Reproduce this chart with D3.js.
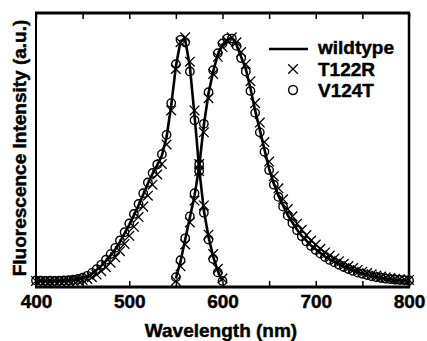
<!DOCTYPE html>
<html>
<head>
<meta charset="utf-8">
<script src="https://cdn.jsdelivr.net/npm/d3@7"></script>
<style>
  body { margin: 0; background: #fff; }
  svg { display: block; }
  text { font-family: "Liberation Sans", Arial, sans-serif; font-weight: bold; fill: #000; stroke: #000; stroke-width: 0.45px; }
</style>
</head>
<body>
<svg id="chart" width="427" height="341"></svg>
<script>
// excitation wavelengths (nm)
var exWl = [400, 405, 410, 415, 420, 425, 430, 435, 440, 445, 450, 455, 460, 465, 470, 475, 480,
    485, 490, 495, 500, 505, 510, 515, 520, 525, 530, 535, 540, 545, 550, 555, 560, 565, 570,
    575, 580, 585, 590, 595, 600];
// emission wavelengths (nm)
var emWl = [550, 555, 560, 565, 570, 575, 580, 585, 590, 595, 600, 605, 610, 615, 620, 625, 630,
    635, 640, 645, 650, 655, 660, 665, 670, 675, 680, 685, 690, 695, 700, 705, 710, 715, 720,
    725, 730, 735, 740, 745, 750, 755, 760, 765, 770, 775, 780, 785, 790, 795, 800];

var wildEx = [0, 0, 0, 0, 0, 0, 0, 0.001, 0.003, 0.006, 0.011, 0.018, 0.03, 0.045, 0.062, 0.082,
    0.105, 0.13, 0.16, 0.195, 0.23, 0.27, 0.31, 0.355, 0.4, 0.44, 0.475, 0.515, 0.59, 0.72, 0.88,
    0.985, 0.99, 0.88, 0.68, 0.46, 0.29, 0.18, 0.1, 0.04, 0];
var wildEm = [0.01, 0.08, 0.17, 0.26, 0.35, 0.47, 0.64, 0.77, 0.86, 0.93, 0.97, 0.99, 1.0, 0.97,
    0.92, 0.87, 0.79, 0.7, 0.62, 0.54, 0.46, 0.4, 0.35, 0.31, 0.27, 0.24, 0.21, 0.185, 0.165,
    0.145, 0.13, 0.115, 0.1, 0.088, 0.078, 0.068, 0.058, 0.05, 0.042, 0.035, 0.03, 0.025, 0.02,
    0.016, 0.013, 0.01, 0.008, 0.006, 0.004, 0.003, 0.002];

var t122rEx = [0, 0, 0, 0, 0, 0, 0, 0, 0, 0.002, 0.004, 0.008, 0.015, 0.026, 0.04, 0.056, 0.075,
    0.097, 0.122, 0.152, 0.185, 0.222, 0.262, 0.305, 0.35, 0.395, 0.437, 0.48, 0.56, 0.7, 0.87,
    0.98, 1.0, 0.9, 0.7, 0.48, 0.31, 0.19, 0.11, 0.05, 0.01];
var t122rEm = [0, 0.06, 0.15, 0.24, 0.33, 0.45, 0.61, 0.75, 0.85, 0.92, 0.96, 0.985, 1.0, 0.98,
    0.94, 0.89, 0.82, 0.73, 0.65, 0.57, 0.49, 0.43, 0.38, 0.335, 0.295, 0.265, 0.235, 0.21, 0.188,
    0.166, 0.149, 0.132, 0.117, 0.104, 0.092, 0.081, 0.07, 0.061, 0.053, 0.045, 0.038, 0.032,
    0.027, 0.022, 0.018, 0.015, 0.012, 0.009, 0.007, 0.005, 0.004];

var v124tEx = [0.002, 0.001, 0, 0.001, 0, 0.001, 0.002, 0.003, 0.005, 0.008, 0.013, 0.021, 0.033,
    0.048, 0.066, 0.087, 0.11, 0.136, 0.166, 0.2, 0.236, 0.275, 0.316, 0.36, 0.404, 0.443, 0.478,
    0.52, 0.6, 0.73, 0.89, 0.99, 0.98, 0.86, 0.66, 0.45, 0.28, 0.17, 0.09, 0.035, 0];
var v124tEm = [0.015, 0.085, 0.175, 0.265, 0.36, 0.48, 0.645, 0.775, 0.865, 0.935, 0.975, 0.995,
    0.995, 0.965, 0.915, 0.86, 0.78, 0.69, 0.61, 0.53, 0.455, 0.395, 0.345, 0.305, 0.268, 0.237,
    0.208, 0.183, 0.162, 0.143, 0.127, 0.112, 0.098, 0.086, 0.076, 0.066, 0.057, 0.049, 0.041,
    0.034, 0.029, 0.024, 0.019, 0.015, 0.012, 0.009, 0.007, 0.005, 0.004, 0.003, 0.002];

var xTicks = [400, 500, 600, 700, 800];
var xMinor = [400, 450, 500, 550, 600, 650, 700, 750, 800];
var legendNames = ['wildtype', 'T122R', 'V124T'];

var plotLeft = 36, plotRight = 409, plotTop = 13, plotBottom = 287;

var svg = d3.select('#chart');

var x = d3.scaleLinear().domain([400, 800]).range([plotLeft, plotRight]);
var y = d3.scaleLinear().domain([-0.025, 1.1]).range([plotBottom, plotTop]);

function pairs(wl, vals) {
    return wl.map(function (w, i) { return { w: w, v: vals[i] }; });
}

var line = d3.line()
    .x(function (d) { return x(d.w); })
    .y(function (d) { return y(d.v); });

var plot = svg.append('g');

// wildtype lines
[pairs(exWl, wildEx), pairs(emWl, wildEm)].forEach(function (d) {
    plot.append('path')
        .datum(d)
        .attr('d', line)
        .attr('fill', 'none')
        .attr('stroke', '#000')
        .attr('stroke-width', 2.6)
        .attr('stroke-linejoin', 'round');
});

// T122R crosses
var cs = 4.8;
var crossPts = pairs(exWl, t122rEx).concat(pairs(emWl, t122rEm));
plot.selectAll('.cross')
    .data(crossPts)
    .enter().append('path')
    .attr('class', 'cross')
    .attr('d', function (d) {
        var cx = x(d.w), cy = y(d.v);
        return 'M' + (cx - cs) + ',' + (cy - cs) + 'L' + (cx + cs) + ',' + (cy + cs) +
            'M' + (cx - cs) + ',' + (cy + cs) + 'L' + (cx + cs) + ',' + (cy - cs);
    })
    .attr('stroke', '#000')
    .attr('stroke-width', 1.3)
    .attr('fill', 'none');

// V124T circles
var circPts = pairs(exWl, v124tEx).concat(pairs(emWl, v124tEm));
plot.selectAll('.circ')
    .data(circPts)
    .enter().append('circle')
    .attr('class', 'circ')
    .attr('cx', function (d) { return x(d.w); })
    .attr('cy', function (d) { return y(d.v); })
    .attr('r', 4.2)
    .attr('fill', 'none')
    .attr('stroke', '#000')
    .attr('stroke-width', 1.4);

// inward ticks, bottom and top
svg.append('g')
    .attr('transform', 'translate(0,' + plotBottom + ')')
    .call(d3.axisBottom(x).tickValues(xMinor).tickSize(-6).tickFormat(''))
    .call(function (g) { g.select('.domain').remove(); })
    .selectAll('line').attr('stroke-width', 1.5);
svg.append('g')
    .attr('transform', 'translate(0,' + plotTop + ')')
    .call(d3.axisTop(x).tickValues(xMinor).tickSize(-6).tickFormat(''))
    .call(function (g) { g.select('.domain').remove(); })
    .selectAll('line').attr('stroke-width', 1.5);

// tick labels
var xAxis = svg.append('g')
    .attr('transform', 'translate(0,' + plotBottom + ')')
    .call(d3.axisBottom(x).tickValues(xTicks).tickSize(0).tickPadding(7.5).tickFormat(d3.format('d')));
xAxis.select('.domain').remove();
xAxis.selectAll('text')
    .style('font-family', '"Liberation Sans", Arial, sans-serif')
    .style('font-weight', 'bold')
    .style('font-size', '19px')
    .style('stroke', '#000')
    .style('stroke-width', '0.45px');

// frame
svg.append('line').attr('x1', plotLeft - 1).attr('x2', plotRight + 1).attr('y1', plotTop).attr('y2', plotTop)
    .attr('stroke', '#000').attr('stroke-width', 3);
svg.append('line').attr('x1', plotLeft - 1).attr('x2', plotRight + 1).attr('y1', plotBottom).attr('y2', plotBottom)
    .attr('stroke', '#000').attr('stroke-width', 3);
svg.append('line').attr('x1', plotLeft).attr('x2', plotLeft).attr('y1', plotTop).attr('y2', plotBottom)
    .attr('stroke', '#000').attr('stroke-width', 2);
svg.append('line').attr('x1', plotRight).attr('x2', plotRight).attr('y1', plotTop).attr('y2', plotBottom)
    .attr('stroke', '#000').attr('stroke-width', 2.5);

// axis titles
svg.append('text')
    .attr('x', 221).attr('y', 337)
    .attr('text-anchor', 'middle')
    .style('font-size', '19px')
    .text('Wavelength (nm)');
svg.append('text')
    .attr('transform', 'translate(26,148) rotate(-90)')
    .attr('text-anchor', 'middle')
    .style('font-size', '19px')
    .text('Fluorescence Intensity (a.u.)');

// legend
var lg = svg.append('g');
lg.append('line').attr('x1', 269).attr('x2', 308).attr('y1', 49).attr('y2', 49)
    .attr('stroke', '#000').attr('stroke-width', 2.6);
lg.append('path')
    .attr('d', 'M' + (293 - cs) + ',' + (69 - cs) + 'L' + (293 + cs) + ',' + (69 + cs) +
        'M' + (293 - cs) + ',' + (69 + cs) + 'L' + (293 + cs) + ',' + (69 - cs))
    .attr('stroke', '#000').attr('stroke-width', 1.3);
lg.append('circle').attr('cx', 293).attr('cy', 90).attr('r', 4.4)
    .attr('fill', 'none').attr('stroke', '#000').attr('stroke-width', 1.5);
lg.selectAll('.lt')
    .data(legendNames)
    .enter().append('text')
    .attr('class', 'lt')
    .attr('x', 318)
    .attr('y', function (d, i) { return [54, 76, 97][i]; })
    .style('font-size', '19px')
    .text(function (d) { return d; });
</script>
</body>
</html>
